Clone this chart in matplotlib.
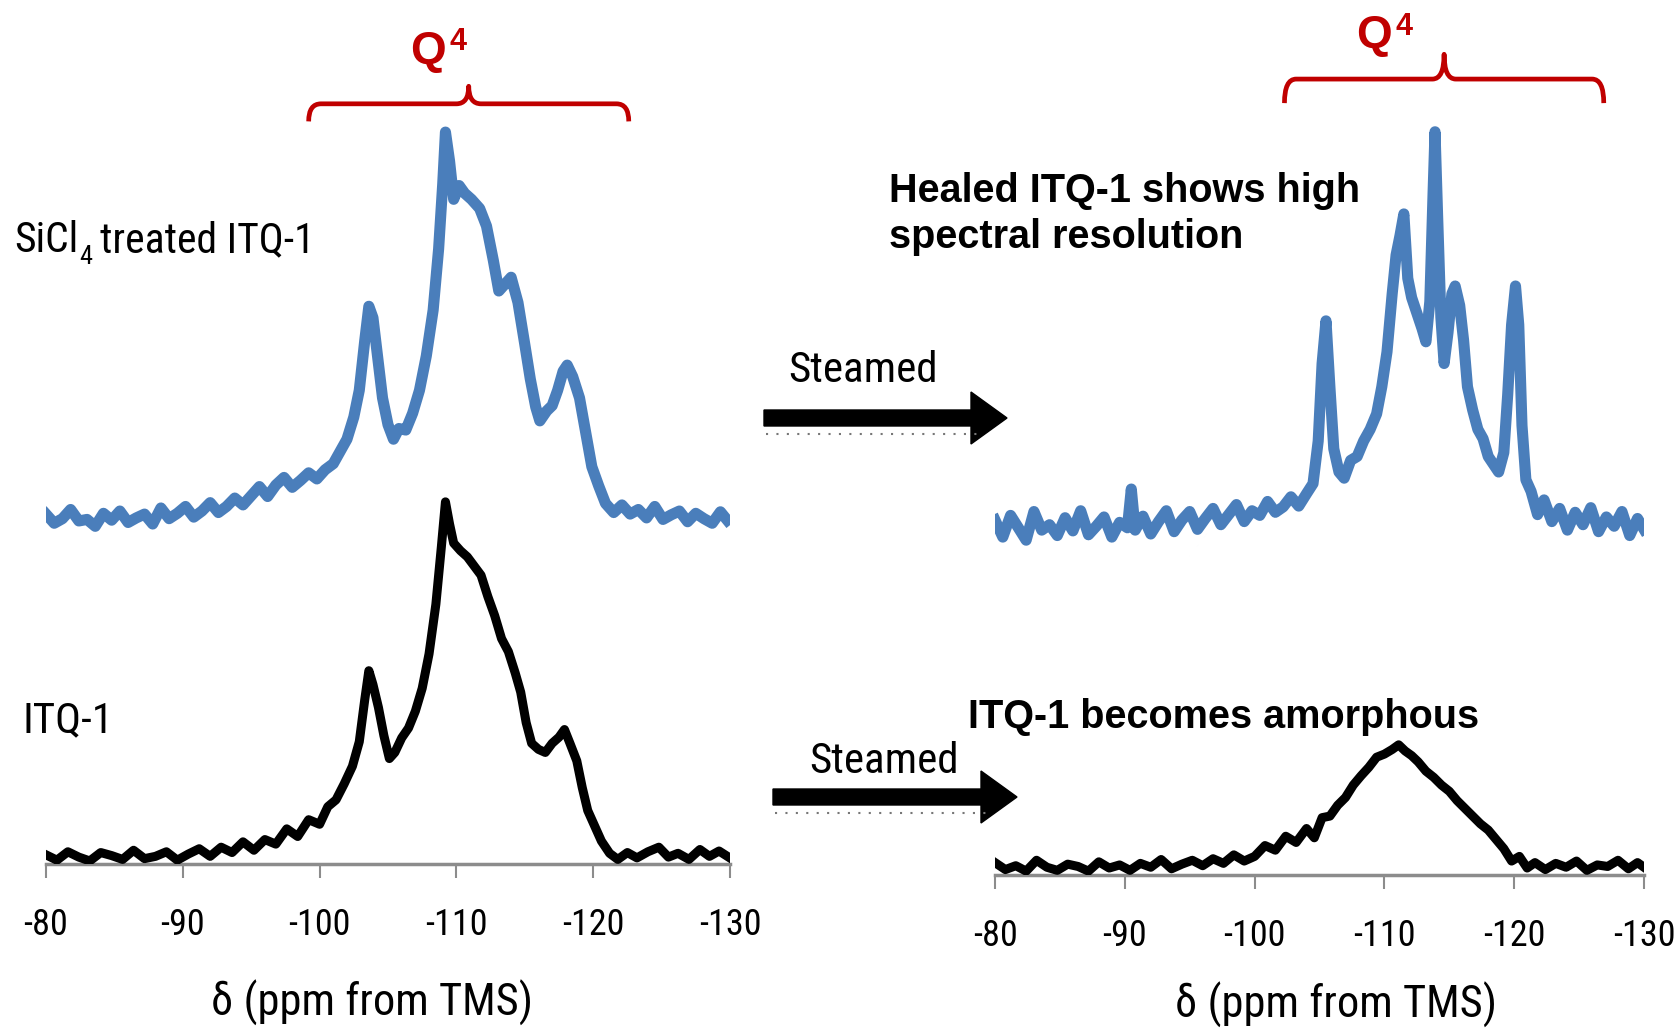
import matplotlib
matplotlib.use('Agg')
import matplotlib.pyplot as plt
from matplotlib import font_manager as fm
from matplotlib.patches import FancyArrow, PathPatch
from matplotlib.path import Path
from matplotlib.lines import Line2D
from matplotlib.transforms import IdentityTransform

W, H = 1680, 1036

# tick positions / labels (ppm)
ticks = [-80, -90, -100, -110, -120, -130]
tick_labels = ['-80', '-90', '-100', '-110', '-120', '-130']

# left panel, SiCl4 treated ITQ-1 (blue, offset upward)
lb_ppm = [-80.0, -80.6, -81.2, -81.8, -82.4, -83.0, -83.6, -84.2, -84.8, -85.4,
          -86.0, -86.6, -87.2, -87.8, -88.4, -89.0, -89.6, -90.2, -90.8, -91.4,
          -92.0, -92.6, -93.2, -93.8, -94.4, -95.0, -95.6, -96.2, -96.8, -97.4,
          -98.0, -98.6, -99.2, -99.8, -100.4, -101.0, -101.5, -102.0, -102.5, -102.9,
          -103.3, -103.6, -103.9, -104.2, -104.6, -105.0, -105.4, -105.8, -106.3, -106.8,
          -107.3, -107.8, -108.3, -108.7, -109.0, -109.2, -109.5, -109.8, -110.2, -110.6,
          -111.1, -111.7, -112.2, -112.7, -113.1, -113.5, -114.0, -114.5, -115.0, -115.4,
          -115.8, -116.1, -116.6, -117.0, -117.4, -117.8, -118.1, -118.5, -119.0, -119.5,
          -119.9, -120.4, -120.9, -121.5, -122.1, -122.7, -123.3, -123.9, -124.5, -125.1,
          -125.7, -126.3, -126.9, -127.5, -128.1, -128.7, -129.3, -129.8]
lb_int = [45.8, 44.6, 45.2, 46.4, 44.9, 45.1, 44.2, 45.9, 45.0, 46.2,
          44.7, 45.3, 45.8, 44.5, 46.6, 45.2, 45.9, 46.8, 45.4, 46.2,
          47.3, 46.0, 46.8, 47.9, 47.0, 48.2, 49.4, 48.1, 49.6, 50.6,
          49.3, 50.2, 51.2, 50.4, 51.6, 52.4, 54.0, 55.6, 58.5, 62.0,
          68.5, 73.0, 71.5, 67.0, 61.0, 57.5, 55.6, 57.0, 56.8, 59.0,
          62.0, 66.5, 72.5, 80.5, 89.0, 95.8, 92.0, 87.0, 88.8, 87.8,
          87.0, 85.8, 83.5, 79.0, 75.0, 75.8, 76.8, 73.5, 68.0, 63.5,
          59.8, 58.0, 59.3, 60.0, 62.0, 64.5, 65.3, 63.8, 61.0, 56.0,
          52.0, 49.5, 47.2, 46.0, 47.0, 45.8, 46.4, 45.3, 46.8, 45.1,
          45.7, 46.2, 44.8, 45.9, 45.2, 44.6, 46.1, 45.0]

# left panel, ITQ-1 (black)
lk_ppm = [-80.0, -80.8, -81.6, -82.4, -83.2, -84.0, -84.8, -85.6, -86.4, -87.2,
          -88.0, -88.8, -89.6, -90.4, -91.2, -92.0, -92.8, -93.6, -94.4, -95.2,
          -96.0, -96.8, -97.6, -98.4, -99.2, -100.0, -100.6, -101.2, -101.8, -102.4,
          -102.9, -103.3, -103.6, -103.9, -104.3, -104.7, -105.1, -105.5, -106.0, -106.5,
          -107.0, -107.5, -108.0, -108.5, -108.9, -109.2, -109.5, -109.8, -110.3, -110.8,
          -111.3, -111.8, -112.3, -112.8, -113.3, -113.8, -114.3, -114.7, -115.1, -115.5,
          -116.0, -116.5, -117.0, -117.5, -117.9, -118.3, -118.8, -119.2, -119.6, -120.1,
          -120.6, -121.2, -121.8, -122.5, -123.2, -124.0, -124.8, -125.5, -126.2, -127.0,
          -127.8, -128.5, -129.2, -129.9]
lk_int = [1.2, 0.5, 1.6, 0.9, 0.4, 1.5, 1.1, 0.6, 1.8, 0.7,
          1.0, 1.6, 0.5, 1.3, 2.0, 1.0, 2.2, 1.5, 2.9, 1.8,
          3.2, 2.6, 4.6, 3.6, 5.8, 5.2, 7.5, 8.4, 10.5, 12.8,
          16.0, 21.5, 25.3, 23.5, 20.5, 16.8, 13.8, 14.6, 16.5, 17.8,
          20.0, 23.0, 27.5, 34.0, 41.5, 47.4, 44.5, 42.0, 41.0, 40.2,
          39.0, 37.8, 35.0, 32.5, 29.5, 27.8, 25.0, 22.5, 18.5, 15.8,
          15.0, 14.6, 15.8, 16.6, 17.6, 15.8, 13.5, 10.0, 7.0, 5.0,
          3.0, 1.4, 0.6, 1.5, 0.8, 1.6, 2.2, 0.9, 1.4, 0.6,
          1.9, 1.0, 1.7, 0.9]

# right panel, steamed SiCl4 treated ITQ-1 (blue)
rb_ppm = [-80.0, -80.6, -81.2, -81.8, -82.4, -83.0, -83.6, -84.2, -84.8, -85.4,
          -86.0, -86.6, -87.2, -87.8, -88.4, -89.0, -89.6, -90.2, -90.5, -90.8,
          -91.4, -92.0, -92.6, -93.2, -93.8, -94.4, -95.0, -95.6, -96.2, -96.8,
          -97.4, -98.0, -98.6, -99.2, -99.8, -100.4, -101.0, -101.6, -102.2, -102.8,
          -103.4, -104.0, -104.5, -104.9, -105.2, -105.5, -105.8, -106.1, -106.5, -106.9,
          -107.4, -107.9, -108.4, -108.9, -109.4, -109.8, -110.2, -110.6, -110.9, -111.2,
          -111.5, -111.8, -112.1, -112.5, -112.9, -113.2, -113.5, -113.75, -113.9, -114.1,
          -114.35, -114.6, -114.9, -115.2, -115.45, -115.8, -116.1, -116.4, -116.8, -117.2,
          -117.6, -118.0, -118.4, -118.8, -119.2, -119.5, -119.8, -120.1, -120.35, -120.6,
          -120.9, -121.3, -121.8, -122.3, -122.9, -123.5, -124.1, -124.7, -125.3, -125.9,
          -126.5, -127.1, -127.7, -128.3, -128.9, -129.5, -130.0]
rb_int = [45.8, 43.6, 46.4, 44.8, 43.2, 46.9, 44.5, 45.2, 43.8, 46.1,
          44.4, 47.0, 43.9, 45.0, 46.2, 43.6, 45.5, 44.8, 49.8, 44.5,
          46.3, 44.0, 45.6, 47.0, 44.3, 45.8, 46.9, 44.6, 46.0, 47.3,
          45.2, 46.5, 47.8, 45.6, 47.0, 46.4, 48.2, 46.8, 47.5, 48.8,
          47.6, 49.2, 50.5, 56.0, 66.0, 71.5, 63.0, 55.0, 52.0, 51.2,
          53.5, 54.0, 56.0, 57.5, 59.5, 63.0, 67.5, 75.0, 80.0, 82.5,
          85.3, 77.0, 74.5, 72.5, 70.5, 68.8, 74.0, 88.0, 95.9, 85.0,
          72.0, 66.0, 70.0, 75.0, 76.0, 73.5, 69.0, 63.0, 60.0, 57.5,
          56.3, 54.0, 53.0, 52.0, 54.5, 62.0, 71.0, 76.0, 71.0, 58.0,
          51.0, 49.5, 46.5, 48.4, 45.6, 47.3, 44.5, 46.8, 45.2, 47.4,
          44.3, 46.2, 45.0, 46.9, 43.8, 46.0, 44.6]

# right panel, steamed ITQ-1 (black)
rk_ppm = [-80.0, -80.8, -81.6, -82.4, -83.2, -84.0, -84.8, -85.6, -86.4, -87.2,
          -88.0, -88.8, -89.6, -90.4, -91.2, -92.0, -92.8, -93.6, -94.4, -95.2,
          -96.0, -96.8, -97.6, -98.4, -99.2, -100.0, -100.8, -101.6, -102.4, -103.2,
          -104.0, -104.6, -105.2, -105.8, -106.4, -107.0, -107.6, -108.2, -108.8, -109.4,
          -110.0, -110.6, -111.1, -111.6, -112.1, -112.6, -113.2, -113.8, -114.4, -115.0,
          -115.6, -116.2, -116.8, -117.4, -118.0, -118.6, -119.2, -119.8, -120.4, -121.0,
          -121.6, -122.4, -123.2, -124.0, -124.8, -125.6, -126.4, -127.2, -128.0, -128.8,
          -129.5, -130.0]
rk_int = [1.6, 0.7, 1.2, 0.5, 1.9, 1.0, 0.6, 1.4, 1.1, 0.5,
          1.7, 0.9, 1.3, 0.6, 1.5, 1.0, 2.0, 0.8, 1.4, 1.9,
          1.2, 2.1, 1.5, 2.6, 1.8, 2.4, 3.8, 3.2, 5.0, 4.2,
          6.0, 4.8, 7.4, 7.6, 9.0, 10.0, 11.6, 12.8, 13.9, 15.2,
          15.6, 16.2, 16.8, 16.0, 15.4, 14.6, 13.4, 12.6, 11.6, 10.8,
          9.6, 8.6, 7.6, 6.6, 5.8, 4.6, 3.4, 1.8, 2.4, 0.9,
          1.6, 0.7, 1.5, 1.0, 1.8, 0.6, 1.3, 1.1, 1.9, 0.8,
          1.6, 1.0]

# Q4 bracket ends / tip (ppm)
q4_left = [-99.2, -110.9, -122.6]
q4_right = [-102.3, -114.6, -126.9]

BLUE = '#4a7ebb'
RED = '#c00000'
GRAY = '#8c8c8c'

names = {f.name for f in fm.fontManager.ttflist}
narrow = next((n for n in ['Liberation Sans Narrow', 'Roboto Condensed',
                           'Open Sans Condensed', 'DejaVu Sans Condensed']
               if n in names), 'Liberation Sans')
bold = 'Liberation Sans'

fig = plt.figure(figsize=(16.8, 10.36), dpi=100)


def box(x0, x1, ybot, ytop):
    return [x0 / W, 1 - ybot / H, (x1 - x0) / W, (ybot - ytop) / H]


def ftext(x, y, s, **kw):
    return fig.text(x / W, 1 - y / H, s, **kw)


def setup(ax):
    ax.set_xlim(-80, -130)
    ax.set_ylim(0, 100)
    for s in ['top', 'left', 'right']:
        ax.spines[s].set_visible(False)
    ax.spines['bottom'].set_color(GRAY)
    ax.spines['bottom'].set_linewidth(2.5)
    ax.set_yticks([])
    ax.set_xticks(ticks)
    ax.set_xticklabels(tick_labels, family=narrow, fontsize=26)
    ax.tick_params(axis='x', direction='out', length=10, width=1.5,
                   color=GRAY, pad=21)
    ax.patch.set_visible(False)


def bracket(ax, xs, yh, yend, ytip, d=0.9):
    x0, xm, x1 = xs
    verts = [(x0, yend), (x0, yh), (x0 - d, yh),
             (xm + d, yh), (xm, yh), (xm, ytip),
             (xm, yh), (xm - d, yh),
             (x1 + d, yh), (x1, yh), (x1, yend)]
    codes = [Path.MOVETO, Path.CURVE3, Path.CURVE3,
             Path.LINETO, Path.CURVE3, Path.CURVE3,
             Path.CURVE3, Path.CURVE3,
             Path.LINETO, Path.CURVE3, Path.CURVE3]
    ax.add_patch(PathPatch(Path(verts, codes), fill=False, ec=RED, lw=3.4,
                           clip_on=False, capstyle='butt', joinstyle='round'))


axL = fig.add_axes(box(46, 730, 864, 100))
axR = fig.add_axes(box(995, 1644, 875, 100))
setup(axL)
setup(axR)

axL.plot(lb_ppm, lb_int, color=BLUE, lw=8, zorder=3, solid_joinstyle='round')
axL.plot(lk_ppm, lk_int, color='black', lw=6.5, zorder=3, solid_joinstyle='round')
axR.plot(rb_ppm, rb_int, color=BLUE, lw=8, zorder=3, solid_joinstyle='round')
axR.plot(rk_ppm, rk_int, color='black', lw=6.5, zorder=3, solid_joinstyle='round')

bracket(axL, q4_left, 99.5, 97.2, 101.8)
bracket(axR, q4_right, 102.7, 99.6, 105.9)

# Q4 labels
ftext(428, 64, 'Q', family=bold, weight='bold', size=33, color=RED,
      ha='center', va='baseline')
ftext(449, 50, '4', family=bold, weight='bold', size=22, color=RED,
      ha='left', va='baseline')
ftext(1374, 48, 'Q', family=bold, weight='bold', size=33, color=RED,
      ha='center', va='baseline')
ftext(1396, 35, '4', family=bold, weight='bold', size=22, color=RED,
      ha='left', va='baseline')

# sample labels
r = fig.canvas.get_renderer()
t1 = ftext(14, 252, 'SiCl', family=narrow, size=30, va='baseline')
bb = t1.get_window_extent(r)
t2 = ftext(bb.x1 + 1, 264, '4', family=narrow, size=19, va='baseline')
bb2 = t2.get_window_extent(r)
ftext(bb2.x1 + 8, 252, 'treated ITQ-1', family=narrow, size=30, va='baseline')
ftext(22, 732, 'ITQ-1', family=narrow, size=31, va='baseline')

ftext(788, 382, 'Steamed', family=narrow, size=31, va='baseline')
ftext(809, 773, 'Steamed', family=narrow, size=31, va='baseline')

ftext(889, 202, 'Healed ITQ-1 shows high', family=bold, weight='bold',
      size=28.5, va='baseline')
ftext(889, 248, 'spectral resolution', family=bold, weight='bold',
      size=28.5, va='baseline')
ftext(968, 728, 'ITQ-1 becomes amorphous', family=bold, weight='bold',
      size=28.5, va='baseline')

ftext(372, 1016, 'δ (ppm from TMS)', family=narrow, size=32, ha='center',
      va='baseline')
ftext(1336, 1018, 'δ (ppm from TMS)', family=narrow, size=32, ha='center',
      va='baseline')

# steamed arrows (display pixels)
for x0, x1, y in [(764, 1007, 418), (773, 1017, 797)]:
    fig.add_artist(FancyArrow(x0, H - y, x1 - x0, 0, width=16,
                              head_width=52, head_length=36,
                              length_includes_head=True, color='black',
                              transform=IdentityTransform()))
    fig.add_artist(Line2D([x0 + 2, x1 - 30], [H - y - 16] * 2, color='#777777',
                          lw=1.5, ls=(0, (1, 4)),
                          transform=IdentityTransform()))

fig.savefig('out.png', dpi=100)
